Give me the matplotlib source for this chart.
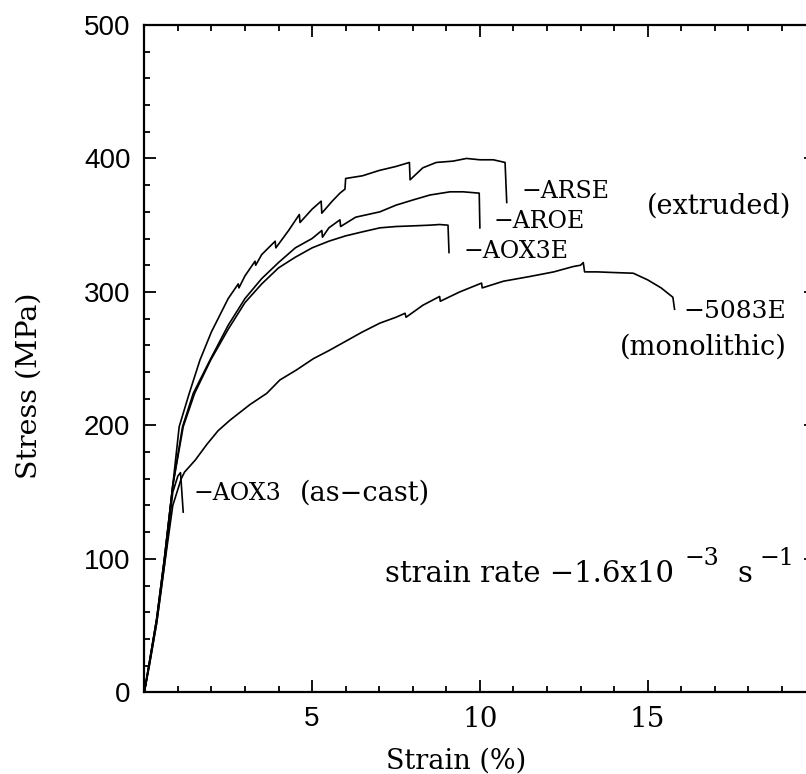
import matplotlib
matplotlib.use("Agg")
import matplotlib.pyplot as plt
from matplotlib.ticker import MultipleLocator

# Tensile stress-strain curves (strain in %, stress in MPa)
arse_strain = [0, 0.15, 0.37, 0.6, 0.85, 1.04, 1.34, 1.66, 2.0, 2.5, 2.8, 2.82, 3.0, 3.3,
               3.32, 3.5, 3.9, 3.92, 4.3, 4.62, 4.64, 5.0, 5.27, 5.29, 5.6, 5.83, 5.98,
               6.0, 6.5, 7.0, 7.5, 7.9, 7.92, 8.3, 8.7, 9.2, 9.6, 10.0, 10.4, 10.75, 10.8]
arse_stress = [0, 22, 55, 100, 155, 199, 224, 249, 270, 295, 306, 303, 312, 323,
               320, 328, 338, 333, 346, 358, 352, 362, 368, 359, 368, 374, 377,
               385, 387, 391, 394, 397, 384, 393, 397, 398, 400, 399, 399, 397, 367]

aroe_strain = [0, 0.15, 0.37, 0.6, 0.85, 1.14, 1.46, 1.96, 2.5, 3.0, 3.5, 4.0, 4.5, 5.0,
               5.29, 5.31, 5.5, 5.83, 5.85, 6.3, 7.02, 7.5, 8.02, 8.51, 9.11, 9.5, 9.98,
               10.0]
aroe_stress = [0, 22, 55, 100, 155, 199, 224, 249, 275, 295, 310, 322, 333, 340,
               346, 341, 348, 354, 349, 356, 360, 365, 369, 372.6, 375, 375, 374,
               348]

aox3e_strain = [0, 0.15, 0.37, 0.6, 0.85, 1.16, 1.5, 1.98, 2.5, 3.0, 3.5, 4.0, 4.5, 5.0,
                5.5, 6.0, 6.5, 7.02, 7.5, 8.02, 8.5, 8.8, 9.05, 9.08]
aox3e_stress = [0, 22, 55, 100, 155, 199, 224, 249, 272, 292, 306, 318, 326, 333,
                338, 342, 345, 348, 349, 349.5, 350, 350.5, 350, 329.5]

m5083e_strain = [0, 0.15, 0.37, 0.6, 0.85, 1.1, 1.2, 1.52, 1.86, 2.2, 2.56, 3.15, 3.65,
                 4.04, 4.54, 5.04, 5.5, 6.0, 6.5, 7.02, 7.5, 7.77, 7.8, 8.3, 8.8, 8.82,
                 9.4, 10.05, 10.07, 10.7, 11.5, 12.2, 12.78, 13.0, 13.08, 13.12, 13.5,
                 14.0, 14.57, 15.0, 15.4, 15.6, 15.75, 15.8]
m5083e_stress = [0, 20, 52, 95, 140, 160, 165, 174, 185.6, 196, 204, 215.6, 224,
                 234, 241.6, 250, 256, 263, 270, 276.6, 281, 284, 281, 290, 296.6, 293,
                 300, 306.6, 303, 308, 311.6, 315, 319, 320, 322, 315, 315,
                 314.5, 314, 309, 303, 299, 296, 287]

aox3_strain = [0, 0.15, 0.37, 0.6, 0.85, 1.0, 1.08, 1.16]
aox3_stress = [0, 20, 52, 95, 150, 162, 164.6, 135]

plt.rcParams["font.family"] = "DejaVu Serif"
plt.rcParams["mathtext.fontset"] = "dejavuserif"

fig = plt.figure(figsize=(8.06, 7.74), dpi=100)
ax = fig.add_axes([0.179, 0.1056, 0.8328, 0.8621])

for xs, ys in [(arse_strain, arse_stress), (aroe_strain, aroe_stress),
               (aox3e_strain, aox3e_stress), (m5083e_strain, m5083e_stress),
               (aox3_strain, aox3_stress)]:
    ax.plot(xs, ys, color="black", lw=1.2)

ax.set_xlim(0, 20)
ax.set_ylim(0, 500)
ax.xaxis.set_major_locator(MultipleLocator(5))
ax.xaxis.set_minor_locator(MultipleLocator(1))
ax.yaxis.set_major_locator(MultipleLocator(100))
ax.yaxis.set_minor_locator(MultipleLocator(20))
ax.tick_params(which="both", direction="in", top=True, right=True, width=1.3)
ax.tick_params(which="major", length=8.5)
ax.tick_params(which="minor", length=4.5)
ax.tick_params(axis="y", labelsize=20, pad=10)
ax.tick_params(axis="x", labelsize=20, pad=10)
for s in ax.spines.values():
    s.set_linewidth(1.6)

ax.set_xticks([5, 10, 15])
ax.set_xticklabels(["5", "10", "15"])
ax.set_yticks([0, 100, 200, 300, 400, 500])
ax.set_yticklabels(["0", "100", "200", "300", "400", "500"])
for lab in ax.get_yticklabels():
    lab.set_fontfamily("Liberation Sans")
ax.get_xticklabels()[0].set_fontfamily("Liberation Sans")

ax.set_xlabel("Strain (%)", fontsize=19.5)
ax.xaxis.set_label_coords(0.465, -0.083)
ax.set_ylabel("Stress (MPa)", fontsize=20.5)
ax.yaxis.set_label_coords(-0.152, 0.46)

# curve labels
ax.text(11.25, 375, "\u2212ARSE", fontsize=17, va="center", ha="left")
ax.text(10.4, 352.8, "\u2212AROE", fontsize=17, va="center", ha="left")
ax.text(9.5, 330.3, "\u2212AOX3E", fontsize=17, va="center", ha="left")
ax.text(16.06, 285.3, "\u22125083E", fontsize=18, va="center", ha="left")
ax.text(1.46, 149.2, "\u2212AOX3", fontsize=17, va="center", ha="left")

# group notes
ax.text(19.29, 364, "(extruded)", fontsize=19.5, va="center", ha="right")
ax.text(19.14, 259, "(monolithic)", fontsize=19.5, va="center", ha="right")
ax.text(4.64, 149.2, "(as\u2212cast)", fontsize=19.5, va="center", ha="left")

# test condition, with raised exponents
ax.text(7.17, 82.7, "strain rate \u22121.6x10", fontsize=21, va="baseline", ha="left")
ax.text(16.1, 95.5, "\u22123", fontsize=17, va="baseline", ha="left")
ax.text(17.66, 82.7, "s", fontsize=21, va="baseline", ha="left")
ax.text(18.32, 95.5, "\u22121", fontsize=17, va="baseline", ha="left")

fig.savefig("out.png", dpi=100)
